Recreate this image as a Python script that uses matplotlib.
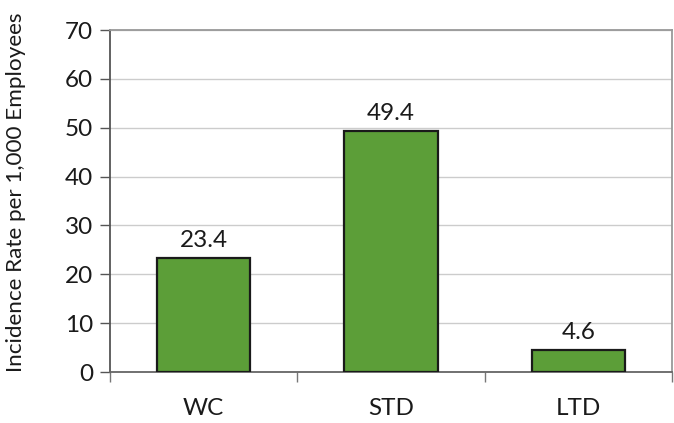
import matplotlib.pyplot as plt
import numpy as np

categories = ["WC", "STD", "LTD"]
rates = [23.4, 49.4, 4.6]
yticks = [0, 10, 20, 30, 40, 50, 60, 70]

plt.rcParams['font.family'] = ['Lato', 'DejaVu Sans']

fig = plt.figure(figsize=(6.74, 4.23), dpi=100)
ax = fig.add_axes([110 / 674, 1 - 372 / 423, (672 - 110) / 674, (372 - 30) / 423])

x = np.arange(len(categories))
bars = ax.bar(x, rates, width=0.5, color="#5c9e38", edgecolor="#1a1a1a", linewidth=1.6, zorder=3)
for rect, v in zip(bars, rates):
    ax.text(rect.get_x() + rect.get_width() / 2, v + 2.2, f"{v:.1f}",
            ha="center", va="baseline", fontsize=17.5, color="#1a1a1a")

ax.set_xlim(-0.5, 2.5)
ax.set_ylim(0, 70)
ax.set_yticks(yticks)
ax.tick_params(axis="y", labelsize=17.5, length=7, width=1, color="#555555", pad=5, labelcolor="#1a1a1a")
ax.grid(axis="y", color="#cccccc", linewidth=1, zorder=0)

ax.set_xticks(x)
ax.set_xticklabels(categories, fontsize=17.5, color="#1a1a1a")
ax.tick_params(axis="x", length=0, pad=19)
ax.set_xticks([-0.5, 0.5, 1.5, 2.5], minor=True)
ax.tick_params(axis="x", which="minor", length=7, width=1, color="#777777")

for side in ["top", "right"]:
    ax.spines[side].set_color("#999999")
    ax.spines[side].set_linewidth(1.3)
ax.spines["left"].set_color("#555555")
ax.spines["bottom"].set_color("#666666")
ax.spines["left"].set_linewidth(1.3)
ax.spines["bottom"].set_linewidth(1.3)

fig.text(16 / 674, 1 - 192 / 423, "Incidence Rate per 1,000 Employees", rotation=90,
         ha="center", va="center", fontsize=16.2, color="#1a1a1a")

fig.savefig("out.png", dpi=100)
